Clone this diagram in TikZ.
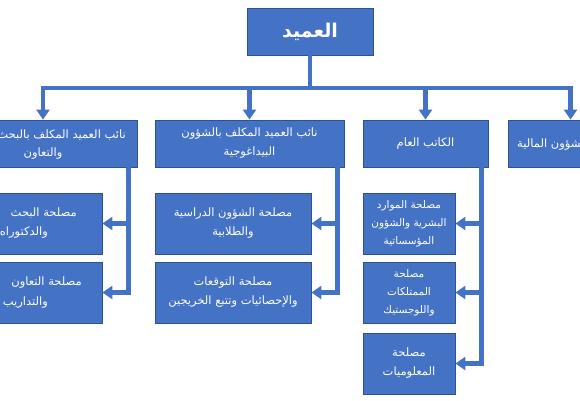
\documentclass[tikz,border=0pt]{standalone}
\usepackage{fontspec}
\newfontfamily\arabicfont[Script=Arabic]{DejaVu Sans}
\TeXXeTstate=1
\usetikzlibrary{arrows.meta,calc}
\definecolor{boxblue}{HTML}{4472C4}
\definecolor{boxedge}{HTML}{2F528F}
\newcommand{\artxt}[1]{\beginR #1\endR}
\begin{document}
\begin{tikzpicture}[x=1pt,y=-1pt,
  box/.style={draw=boxedge, line width=0.8pt, fill=boxblue, text=white,
    font=\arabicfont\fontsize{11.5}{19}\selectfont, align=center, inner sep=0pt},
  lbl/.style={text=white, font=\arabicfont\fontsize{11.5}{19}\selectfont, inner sep=0pt},
  arr/.style={draw=boxblue, line width=4.3pt, -{Triangle[width=13pt,length=10pt]}}]
\useasboundingbox (0,0) rectangle (580,400);
\clip (0,0) rectangle (580,400);
% top
\node[box, minimum width=126pt, minimum height=47pt,
  font=\arabicfont\bfseries\fontsize{19}{22}\selectfont] (top) at (310,31.5) {\artxt{العميد}};
% row 2
\node[box, minimum width=188pt, minimum height=47pt] (A) at (43,143.5) {};
\node[box, minimum width=189pt, minimum height=47pt] (B) at (249.5,143.5)
  {\artxt{نائب العميد المكلف بالشؤون}\\\artxt{البيداغوجية}};
\node[box, minimum width=125pt, minimum height=47pt] (C) at (425.5,143.5) {\artxt{الكاتب العام}};
\node[box, minimum width=125pt, minimum height=47pt] (D) at (570.5,143.5) {};
% row 3
\node[box, minimum width=156pt, minimum height=61pt] (A1) at (24,223.5) {};
\node[box, minimum width=156pt, minimum height=61pt] (A2) at (24,292.5) {};
\node[box, minimum width=156pt, minimum height=61pt] (B1) at (233,223.5)
  {\artxt{مصلحة الشؤون الدراسية}\\\artxt{والطلابية}};
\node[box, minimum width=156pt, minimum height=61pt] (B2) at (233,292.5)
  {\artxt{مصلحة التوقعات}\\\artxt{والإحصائيات وتتبع الخريجين}};
\node[box, minimum width=92pt, minimum height=61pt, font=\arabicfont\fontsize{10.5}{18}\selectfont] (C1) at (409,223.5)
  {\artxt{مصلحة الموارد}\\\artxt{البشرية والشؤون}\\\artxt{المؤسساتية}};
\node[box, minimum width=92pt, minimum height=61pt, font=\arabicfont\fontsize{10.5}{18}\selectfont] (C2) at (409,292.5)
  {\artxt{مصلحة}\\\artxt{الممتلكات}\\\artxt{واللوجستيك}};
\node[box, minimum width=92pt, minimum height=61pt] (C3) at (409,363.5)
  {\artxt{مصلحة}\\\artxt{المعلوميات}};
% labels of clipped boxes
\node[lbl, anchor=east] (Aa) at (126,135) {\artxt{نائب العميد المكلف بالبحث}};
\node[lbl] (Ab) at (43,154) {\artxt{والتعاون}};
\node[lbl, anchor=east] (A1a) at (77,213) {\artxt{مصلحة البحث}};
\node[lbl, anchor=east] (A1b) at (48,233) {\artxt{والدكتوراه}};
\node[lbl, anchor=east] (A2a) at (82,283) {\artxt{مصلحة التعاون}};
\node[lbl, anchor=east] (A2b) at (48,303) {\artxt{والتداريب}};
\node[lbl, anchor=west] (Da) at (517,145) {\artxt{الشؤون المالية}};
% connectors
\coordinate (bar) at (310,88);
\draw[arr] (top.south) |- (A.north |- bar) -- (A.north);
\draw[arr] (top.south) |- (D.north |- bar) -- (D.north);
\draw[arr] (B.north |- bar) -- (B.north);
\draw[arr] (C.north |- bar) -- (C.north);
\coordinate (ta) at ($(A.south east)+(-9,0)$);
\coordinate (tb) at ($(B.south east)+(-7,0)$);
\coordinate (tc) at ($(C.south east)+(-7,0)$);
\draw[arr] (ta) |- (A2.east);
\draw[arr] (ta |- A1.east) -- (A1.east);
\draw[arr] (tb) |- (B2.east);
\draw[arr] (tb |- B1.east) -- (B1.east);
\draw[arr] (tc) |- (C3.east);
\draw[arr] (tc |- C1.east) -- (C1.east);
\draw[arr] (tc |- C2.east) -- (C2.east);
\end{tikzpicture}
\end{document}
